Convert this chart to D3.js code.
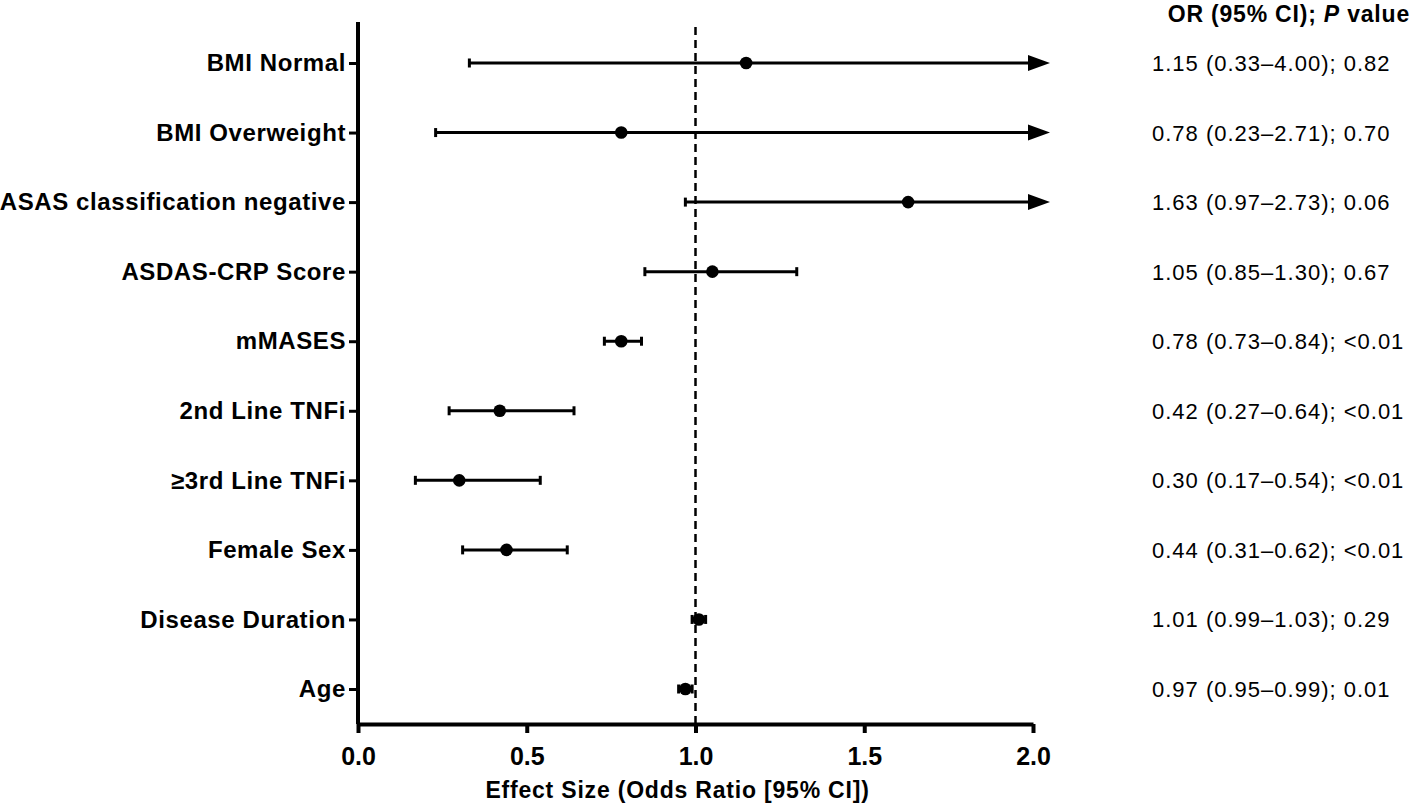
<!DOCTYPE html>
<html><head><meta charset="utf-8">
<script src="https://cdn.jsdelivr.net/npm/d3@7"></script>
<style>body{margin:0;background:#fff}svg{display:block}text{font-family:"Liberation Sans",Arial,sans-serif}</style>
</head><body>
<svg id="c" width="1418" height="807"></svg>
<script>
const categories = ["BMI Normal","BMI Overweight","ASAS classification negative","ASDAS-CRP Score","mMASES","2nd Line TNFi","≥3rd Line TNFi","Female Sex","Disease Duration","Age"];
const oddsRatio = [1.15,0.78,1.63,1.05,0.78,0.42,0.30,0.44,1.01,0.97];
const ciLower = [0.33,0.23,0.97,0.85,0.73,0.27,0.17,0.31,0.99,0.95];
const ciUpper = [4.00,2.71,2.73,1.30,0.84,0.64,0.54,0.62,1.03,0.99];
const pValues = ["0.82","0.70","0.06","0.67","<0.01","<0.01","<0.01","<0.01","0.29","0.01"];
const xTicks = [0.0,0.5,1.0,1.5,2.0];

(function(){
const svg = d3.select("#c");
const mLeft = 358, mRight = 1033, mTop = 22, mBottom = 724;
const x = d3.scaleLinear().domain([0,2]).range([mLeft,mRight]);
const y = d3.scalePoint().domain(categories).range([63,689]);

// axes
const xAxis = svg.append("g").attr("transform",`translate(0,${mBottom})`)
  .call(d3.axisBottom(x).tickValues(xTicks).tickFormat(d3.format(".1f")).tickSize(9).tickSizeOuter(0));
xAxis.select(".domain").attr("stroke","#000").attr("stroke-width",4);
xAxis.selectAll(".tick line").attr("stroke","#000").attr("stroke-width",4);
xAxis.selectAll(".tick text").attr("font-size",25).attr("font-weight","bold").attr("fill","#000")
  .attr("y",41).attr("dy",0);

const yAxis = svg.append("g").attr("transform",`translate(${mLeft},0)`)
  .call(d3.axisLeft(y).tickSize(9).tickSizeOuter(0).tickPadding(3));
yAxis.select(".domain").attr("d",`M0,${mTop}V${mBottom}`).attr("stroke","#000").attr("stroke-width",4);
yAxis.selectAll(".tick line").attr("stroke","#000").attr("stroke-width",3);
yAxis.selectAll(".tick text").attr("font-size",24).attr("font-weight","bold").attr("fill","#000")
  .attr("letter-spacing",0.6);

// reference line
svg.append("line").attr("x1",x(1)).attr("x2",x(1)).attr("y1",27).attr("y2",mBottom)
  .attr("stroke","#000").attr("stroke-width",2.5).attr("stroke-dasharray","8,5");

const xmax = 2.0;
const rows = svg.append("g").selectAll("g").data(categories).join("g")
  .attr("transform",d=>`translate(0,${y(d)})`);
rows.each(function(d,i){
  const g = d3.select(this);
  const lo = x(ciLower[i]);
  const over = ciUpper[i] > xmax;
  const hi = over ? x(xmax) - 5 : x(ciUpper[i]);
  g.append("line").attr("x1",lo).attr("x2",hi).attr("y1",0).attr("y2",0).attr("stroke","#000").attr("stroke-width",3);
  g.append("line").attr("x1",lo).attr("x2",lo).attr("y1",-4.5).attr("y2",4.5).attr("stroke","#000").attr("stroke-width",3);
  if(over){
    const tip = x(xmax)+17;
    g.append("path").attr("d",`M${tip-22},-8L${tip},0L${tip-22},8Z`).attr("fill","#000");
  } else {
    g.append("line").attr("x1",hi).attr("x2",hi).attr("y1",-4.5).attr("y2",4.5).attr("stroke","#000").attr("stroke-width",3);
  }
  g.append("circle").attr("cx",x(oddsRatio[i])).attr("cy",0).attr("r",6.3).attr("fill","#000");
});

// right column
const hdr = svg.append("text").attr("x",1410).attr("y",22).attr("text-anchor","end")
  .attr("font-size",23).attr("font-weight","bold").attr("fill","#000").attr("letter-spacing",0.8);
hdr.append("tspan").text("OR (95% CI); ");
hdr.append("tspan").attr("font-style","italic").text("P");
hdr.append("tspan").text(" value");

const fmt = d3.format(".2f");
svg.append("g").selectAll("text").data(categories).join("text")
  .attr("x",1152).attr("y",d=>y(d)+8).attr("font-size",22).attr("fill","#000").attr("letter-spacing",1)
  .text((d,i)=>`${fmt(oddsRatio[i])} (${fmt(ciLower[i])}–${fmt(ciUpper[i])}); ${pValues[i]}`);

svg.append("text").attr("x",x(1)-18).attr("y",798).attr("text-anchor","middle")
  .attr("font-size",23).attr("font-weight","bold").attr("fill","#000").attr("letter-spacing",0.8)
  .text("Effect Size (Odds Ratio [95% CI])");
})();
</script>
</body></html>
